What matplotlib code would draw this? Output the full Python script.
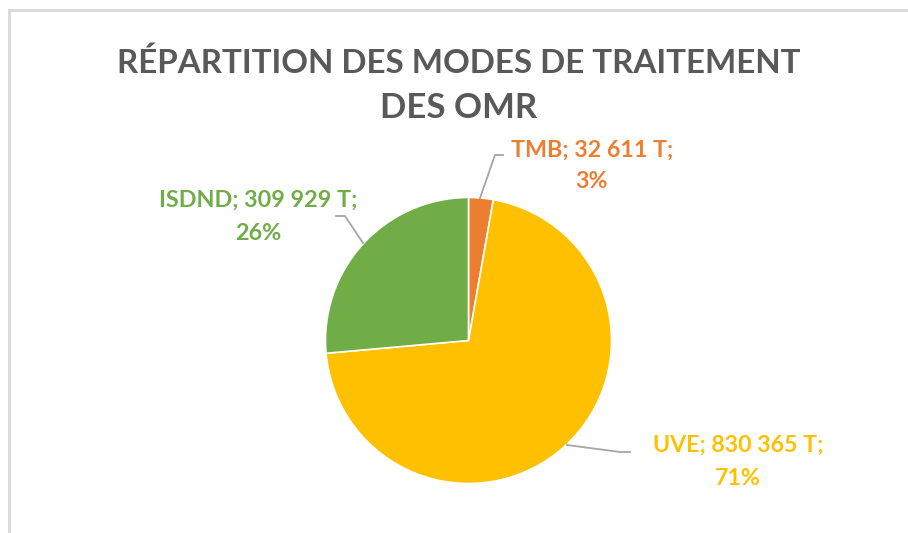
import matplotlib
matplotlib.use("Agg")
import matplotlib.pyplot as plt
from matplotlib.lines import Line2D

categories = ["TMB", "UVE", "ISDND"]
values = [32611, 830365, 309929]
value_labels = ["32 611 T", "830 365 T", "309 929 T"]
percent_labels = ["3%", "71%", "26%"]
colors = ["#ED7D31", "#FFC000", "#70AD47"]
title_lines = ["RÉPARTITION DES MODES DE TRAITEMENT", "DES OMR"]

W, H = 908, 533
fig = plt.figure(figsize=(W / 100, H / 100), dpi=100)
ax = fig.add_axes([0, 0, 1, 1])
ax.set_xlim(0, W)
ax.set_ylim(0, H)
ax.set_aspect("equal")
ax.axis("off")

def Y(py):
    return H - py

# border
ax.add_line(Line2D([9, W + 5], [Y(10), Y(10)], color="#D9D9D9", lw=2))
ax.add_line(Line2D([9, 9], [Y(10), -5], color="#D9D9D9", lw=2))

cx, cy, r = 468.5, 340.5, 143
ax.pie(values, colors=colors, startangle=90, counterclock=False,
       center=(cx, Y(cy)), radius=r, frame=True,
       wedgeprops=dict(edgecolor="white", linewidth=1.2))
ax.set_xlim(0, W)
ax.set_ylim(0, H)
ax.axis("off")

fig.canvas.draw()
renderer = fig.canvas.get_renderer()

def fit_text(x, py, s, width, color, family="Lato", weight="bold", size=14):
    t = ax.text(x, Y(py), s, ha="center", va="baseline", color=color,
                fontsize=size, fontweight=weight, family=family)
    bb = t.get_window_extent(renderer=renderer)
    t.set_fontsize(size * width / bb.width)
    return t

# title
fit_text(459, 73, title_lines[0], 690, "#595959")
fit_text(459, 118, title_lines[1], 158, "#595959")

# labels (line1 baseline, line2 baseline, center x, line1 width)
lab = {
    "TMB": (592, 157, 188, 163),
    "UVE": (738, 452, 485, 171),
    "ISDND": (258, 207, 240, 199),
}
for i, c in enumerate(categories):
    x, b1, b2, w = lab[c]
    t1 = fit_text(x, b1, f"{c}; {value_labels[i]};", w, colors[i])
    ax.text(x, Y(b2), percent_labels[i], ha="center", va="baseline",
            color=colors[i], fontsize=t1.get_fontsize(), fontweight="bold",
            family="Lato")

# leader lines
lc = "#A6A6A6"
ax.add_line(Line2D([503, 495, 480], [Y(155), Y(155), Y(198)], color=lc, lw=1.3))
ax.add_line(Line2D([336, 345, 363], [Y(216), Y(216), Y(243)], color=lc, lw=1.3))
ax.add_line(Line2D([630, 620, 567], [Y(452), Y(452), Y(445)], color=lc, lw=1.3))

fig.savefig("out.png", dpi=100, facecolor="white")
